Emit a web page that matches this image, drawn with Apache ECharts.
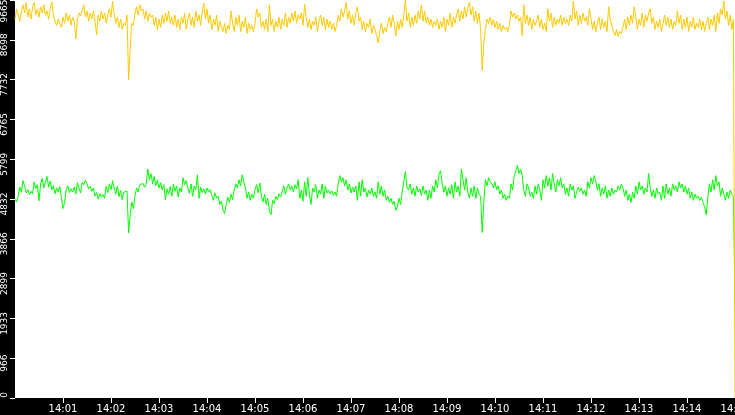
<!DOCTYPE html>
<html>
<head>
<meta charset="utf-8">
<script src="https://cdn.jsdelivr.net/npm/echarts@6/dist/echarts.min.js"></script>
<style>
  html, body { margin: 0; padding: 0; background: #000; }
  #chart { width: 735px; height: 415px; }
</style>
</head>
<body>
<div id="chart"></div>
<script>
// one sample every 2 s, 14:00:00 -> 14:15:00 (451 samples)
var startHour = 14;
var stepSec = 2;
var yMax = 9665;
var yStep = 966.5;

// upper trace (yellow)
var yellowValues = [
  9200,9450,9300,9150,9400,9550,9350,9600,9250,9450,9200,9500,9600,9300,9450,9250,9500,9350,9550,9300,9400,9200,9450,9620,9300,
  9150,9050,9200,9100,9000,9250,9100,9350,9150,9300,9050,9250,9150,8720,9200,9350,9280,9320,9550,9250,9400,9150,9350,9200,9400,
  9150,8820,9300,9150,9400,9200,9350,9100,9300,9450,9250,9640,9300,9100,9250,9000,9200,8950,9100,9050,9300,7720,8480,9100,9050,
  9350,9500,9300,9550,9400,9450,9200,9400,9150,9350,9250,9300,9050,9250,8950,9200,9000,9300,9100,9350,9150,9400,9100,9250,9050,
  9300,9000,9200,8950,9250,9100,9350,8950,9200,9350,9050,9250,9000,9400,9150,9300,9050,9350,9590,9200,9450,9100,9300,8950,9200,
  9050,9300,8900,9150,9000,8900,9100,8850,9050,8950,9400,9100,8900,9250,9050,9300,8900,9150,9000,9250,8850,9100,8950,9050,8900,
  9100,9450,9250,9350,9000,9150,8950,9200,8900,9550,9050,9200,8900,9150,9000,9250,8950,9200,9050,9350,9000,9250,9100,9350,9150,
  9400,9100,9300,9200,9350,9050,9560,9250,9000,9200,8950,9150,9050,9250,8900,9150,9300,9050,9250,8950,9200,9000,9150,8950,9100,
  8900,9050,9300,9150,9450,9250,9400,9610,9200,9400,9100,9300,9050,9350,9500,9150,9250,8950,9150,8900,9100,9000,9200,8850,9050,
  8950,8800,8620,8900,9100,8850,9000,8900,9100,9250,9000,9300,9100,8790,9150,8950,9200,9000,9300,9660,9150,9350,9000,9250,9050,
  9300,9100,9400,9200,9550,9150,9400,9100,9250,9050,9200,9000,9150,9050,9200,8950,9150,9000,9250,8900,9200,9050,9350,9000,9250,
  9100,9300,9450,9150,9400,9200,9500,9250,9450,9620,9300,9500,9150,9400,9100,9350,8950,7960,8620,8950,9200,9100,9250,9050,9200,
  9000,9150,8950,9100,8900,9050,8950,9000,8900,9050,9400,9250,9350,9200,9300,9150,9250,8800,9550,9100,9300,9050,9250,8950,9200,
  9050,9150,9300,9000,9200,8950,9100,8900,9450,9150,9350,9000,9250,9050,9200,9100,9300,9050,9250,9100,9200,9050,9300,9150,9640,
  9200,9400,9050,9300,9100,9350,9150,9250,9050,9450,9200,8950,9150,8900,9100,9250,8950,9200,9000,9150,8900,9500,9200,9050,8900,
  8800,8950,8780,8900,8850,9000,9200,8950,9250,9050,9300,9100,9500,9250,8950,9200,9050,9350,9000,9300,9150,9350,9450,9100,9250,
  8950,9150,9000,9200,8900,9100,9300,9050,9250,9000,9200,8950,9150,9050,9400,9100,9300,8950,9200,9000,9250,8900,9150,9000,9250,
  8950,9100,9000,9200,8950,9150,8900,9100,9250,8950,9200,9050,9300,8900,9350,9100,9450,9300,9640,9200,9400,9050,9300,8950,9200,
  0
];

// lower trace (green)
var greenValues = [
  4830,4760,4900,5120,5000,5280,5150,4980,5060,4940,5020,4960,5250,5090,5180,4790,5200,5330,5100,5250,5380,5120,5270,5050,5160,
  4960,5100,5000,5130,4880,4600,4750,5060,5150,4990,5080,5000,5120,4950,5230,5090,4980,5240,5180,5290,5200,5080,5140,5020,5100,
  4900,4990,4830,4960,4880,4940,4850,5150,4990,5200,5060,5280,5100,4950,5150,4890,5040,4820,5000,4970,5020,4010,4450,4760,4600,
  4920,5100,5000,5180,5150,5210,5120,5190,5560,5300,5450,5200,5380,5150,5290,5100,5230,5050,5180,4820,5080,4950,5130,4900,5200,
  5020,5150,4880,5100,5000,5350,5180,5280,5100,4970,5200,4900,5150,5050,5420,4850,5120,4990,5080,4950,5100,5000,5060,4920,4800,
  4980,4850,4900,4700,4780,4560,4480,4700,4880,4750,4950,4820,5050,5200,5100,5300,5150,5420,5250,5100,4850,5000,4800,4950,4850,
  5050,5180,4980,5220,4900,4760,4950,4700,4850,4530,4450,4800,4720,4900,4820,4960,4880,5000,5150,4950,5100,5200,5050,5150,5000,
  5180,5080,5300,4850,5050,4780,5250,4900,5350,4950,4700,5100,5000,5180,4850,5050,4950,5200,4850,5150,4980,5050,4950,5030,4920,
  5000,4900,5200,5400,5250,5350,5150,5300,5050,5200,4980,5120,5000,5150,4800,5250,4900,5300,5000,5100,4880,5050,4950,5100,4900,
  5000,4850,5250,4950,5150,4900,5050,4800,4900,4750,4850,4700,4780,4560,4650,4850,4700,5000,5250,5500,5100,5050,5200,4950,5100,
  4900,5150,5000,5080,4920,5150,4950,5050,4800,5050,4850,5150,5000,5300,5100,5450,5520,5200,5000,5150,4900,5100,4950,5180,4850,
  5250,5000,5150,4900,5560,5300,5050,5350,5000,4850,5100,4900,5150,4850,5100,4950,4900,4020,4750,5300,5150,5350,5250,5200,5100,
  5250,5050,5150,4950,5050,4850,4950,4800,4900,4850,5200,5050,5400,5500,5650,5450,5550,5400,5050,4900,5200,5100,4900,5000,4850,
  5150,4950,5200,5050,4800,5300,5100,5400,5150,5350,5050,5450,5200,5000,5300,5150,5350,5100,5200,4950,5100,4900,5200,5050,5150,
  4850,5000,5120,5020,5100,4950,5050,4900,5250,5100,5350,5200,5400,5250,5050,5200,4900,5100,4950,5150,4850,5050,4900,5100,4950,
  5050,5000,5150,5050,5200,5100,4900,5050,4800,4950,4750,5000,4850,5150,4950,5250,5050,5150,4950,5100,5000,5450,5100,4900,5050,
  4850,5100,4950,5000,4800,5150,4850,5200,4950,5100,4900,5200,5050,5150,5000,5250,5100,5200,5000,5150,4950,5100,4850,5000,4800,
  4950,4850,4900,4800,4880,4750,4650,4450,4850,5200,5000,5300,5050,5400,5150,5250,4900,5100,4950,4800,5000,4850,5050,4950,4900,
  2450
];

function pad2(n) { return (n < 10 ? '0' : '') + n; }

// pair each sample with its offset in seconds
function toPoints(values) {
  var pts = [];
  for (var i = 0; i < values.length; i++) {
    pts.push([i * stepSec, values[i]]);
  }
  return pts;
}

var chart = echarts.init(document.getElementById('chart'));

var option = {
  backgroundColor: '#000',
  animation: false,
  textStyle: { fontFamily: 'DejaVu Sans' },
  grid: {
    left: 15, right: 0, top: 0, bottom: 17,
    containLabel: false, outerBoundsMode: 'none',
    show: true, backgroundColor: '#fff', borderWidth: 0
  },
  xAxis: {
    type: 'value',
    min: 0, max: 900, interval: 60,
    axisLine: { show: false },
    axisTick: { show: true, length: 5, lineStyle: { color: '#fff' } },
    splitLine: { show: false },
    axisLabel: {
      color: '#fff', fontSize: 10, margin: 6,
      showMinLabel: false,
      formatter: function (s) { return startHour + ':' + pad2(Math.round(s / 60)); }
    }
  },
  yAxis: {
    type: 'value',
    min: 0, max: yMax, interval: yStep,
    axisLine: { show: false },
    axisTick: { show: true, length: 5, lineStyle: { color: '#fff' } },
    splitLine: { show: false },
    axisLabel: {
      color: '#fff', fontSize: 9, margin: 6, rotate: 90,
      formatter: function (v) {
        var t = String(Math.floor(v + 0.001));
        if (v === 0) return '{lo|' + t + '}';
        if (v >= yMax - 0.01) return '{hi|' + t + '}';
        return '{mid|' + t + '}';
      },
      rich: {
        lo: { color: '#fff', fontSize: 9, padding: [0, 0, 0, 6] },
        mid: { color: '#fff', fontSize: 9, padding: [0, 10, 0, 0] },
        hi: { color: '#fff', fontSize: 9, padding: [0, 22, 0, 0] }
      }
    }
  },
  series: [
    {
      type: 'line', data: toPoints(greenValues),
      showSymbol: false, symbol: 'none',
      lineStyle: { color: '#00ff00', width: 1 }
    },
    {
      type: 'line', data: toPoints(yellowValues),
      showSymbol: false, symbol: 'none',
      lineStyle: { color: '#ffc800', width: 1 }
    }
  ]
};

chart.setOption(option);
</script>
</body>
</html>
